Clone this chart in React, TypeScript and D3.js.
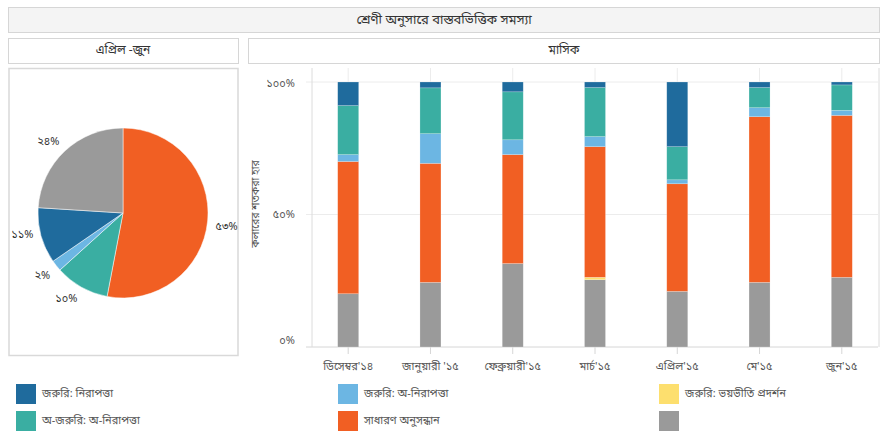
import React from "react";
import * as d3 from "d3";

const months = ["ডিসেম্বর'১৪", "জানুয়ারী '১৫", "ফেব্রুয়ারী'১৫", "মার্চ'১৫", "এপ্রিল'১৫", "মে'১৫", "জুন'১৫"];

const seriesNames = [
  "জরুরি: নিরাপত্তা",
  "জরুরি: অ-নিরাপত্তা",
  "জরুরি: ভয়ভীতি প্রদর্শন",
  "অ-জরুরি: অ-নিরাপত্তা",
  "সাধারণ অনুসন্ধান",
  "",
];
const seriesColors = ["#1f6b9d", "#6cb6e3", "#fddf6e", "#3aaea2", "#f15f23", "#9a9a9a"];

// values per month (percent)
const urgentSafety = [8.9, 2.2, 3.7, 2.1, 24.4, 2.1, 1.1];
const urgentNonSafety = [2.6, 11.2, 5.6, 3.8, 1.5, 3.4, 1.9];
const urgentThreat = [0, 0, 0, 0.9, 0, 0, 0];
const nonUrgentNonSafety = [18.5, 17.3, 18.1, 18.5, 12.5, 7.6, 9.6];
const generalInquiry = [49.9, 44.9, 41.1, 49.3, 40.6, 62.5, 61.1];
const other = [20.1, 24.4, 31.5, 25.4, 21.0, 24.4, 26.3];

// pie (April - June), clockwise from top
const pieOrder = [4, 3, 1, 0, 5];
const pieValues = [53, 10.3, 2.1, 10.6, 24];

const yTicks = [0, 50, 100];

const title = "শ্রেণী অনুসারে বাস্তবভিত্তিক সমস্যা";
const pieTitle = "এপ্রিল -জুন";
const barTitle = "মাসিক";
const yAxisTitle = "কলারের শতকরা হার";

const FONT = "'Noto Sans Bengali', 'Lohit Bengali', 'Vrinda', 'Noto Sans', sans-serif";

const bnDigits = "০১২৩৪৫৬৭৮৯";
const toBn = (n: number) => String(n).replace(/[0-9]/g, (d) => bnDigits[+d]);

export default function App() {
  const W = 888, H = 434;
  const stackKeysBottomUp = [5, 2, 4, 1, 3, 0];
  const seriesData = [urgentSafety, urgentNonSafety, urgentThreat, nonUrgentNonSafety, generalInquiry, other];

  const x = d3.scalePoint<string>().domain(months).range([312, 878]).padding(0.44);
  const y = d3.scaleLinear().domain([0, 100]).range([347, 82]);
  const barW = 21;

  const rows = months.map((m, i) => {
    const r: any = { month: m };
    seriesData.forEach((s, k) => (r["s" + k] = s[i]));
    return r;
  });
  const stack = d3.stack<any>().keys(stackKeysBottomUp.map((k) => "s" + k));
  const stacked = stack(rows);

  const cx = 123, cy = 213, R = 85;
  const pie = d3.pie<number>().sort(null).value((d) => d)(pieValues);
  const arc = d3.arc<any>().innerRadius(0).outerRadius(R);

  const legendCols = [16, 338, 659];
  const legendRows = [384, 411];
  const legendOrder = [0, 1, 2, 3, 4, 5];

  const yLabelShift = (t: number) => (t === 0 ? -6 : t === 100 ? 2 : 0);

  return (
    <svg width={W} height={H} style={{ position: "absolute", left: 0, top: 0, fontFamily: FONT }}>
      <rect x={0} y={0} width={W} height={H} fill="#fff" />
      {/* title */}
      <rect x={8.5} y={7.5} width={871} height={25} fill="#f4f4f4" stroke="#d6d6d6" />
      <text x={444} y={20} textAnchor="middle" dominantBaseline="central" fontSize={13} fill="#333">{title}</text>
      <rect x={8.5} y={38.5} width={230} height={25} fill="#fff" stroke="#d6d6d6" />
      <text x={123} y={51} textAnchor="middle" dominantBaseline="central" fontSize={12} fill="#333">{pieTitle}</text>
      <rect x={248.5} y={38.5} width={631} height={25} fill="#fff" stroke="#d6d6d6" />
      <text x={564} y={51} textAnchor="middle" dominantBaseline="central" fontSize={12} fill="#333">{barTitle}</text>

      {/* pie panel */}
      <rect x={9} y={68.5} width={229} height={287} fill="#fff" stroke="#d9d9d9" strokeWidth={1.5} />
      <g transform={`translate(${cx},${cy})`}>
        {pie.map((p, i) => (
          <path key={i} d={arc(p) as string} fill={seriesColors[pieOrder[i]]} stroke="#fff" strokeWidth={0.5} />
        ))}
        {pie.map((p, i) => {
          const a = (p.startAngle + p.endAngle) / 2;
          const rr = R + 8;
          const deg = (a * 180) / Math.PI;
          const lx = Math.sin(a) * rr;
          const ly = -Math.cos(a) * rr + (deg > 90 && deg < 240 ? 5 : deg > 240 && deg < 340 ? -3 : 0);
          const anchor = Math.sin(a) >= 0 ? "start" : "end";
          return (
            <text key={"l" + i} x={lx} y={ly} textAnchor={anchor} dominantBaseline="central" fontSize={11} fill="#333">
              {toBn(Math.round(pieValues[i])) + "%"}
            </text>
          );
        })}
      </g>

      {/* bar chart grid */}
      <g>
        {months.map((m) => (
          <line key={m} x1={x(m)} x2={x(m)} y1={68} y2={347} stroke="#ececec" />
        ))}
        {yTicks.map((t) => (
          <line key={t} x1={306} x2={878} y1={y(t)} y2={y(t)} stroke={t === 0 ? "#d6d6d6" : "#ececec"} />
        ))}
        <line x1={312} x2={312} y1={68} y2={347} stroke="#dcdcdc" />
        <line x1={879} x2={879} y1={68} y2={347} stroke="#dcdcdc" />
        {months.map((m) => (
          <line key={"t" + m} x1={x(m)} x2={x(m)} y1={347} y2={354} stroke="#d6d6d6" />
        ))}
        {yTicks.map((t) => (
          <text key={"yl" + t} x={295} y={y(t) + yLabelShift(t)} textAnchor="end" dominantBaseline="central" fontSize={11} fill="#555">
            {toBn(t) + "%"}
          </text>
        ))}
        {months.map((m) => (
          <text key={"xl" + m} x={x(m)} y={367} textAnchor="middle" dominantBaseline="central" fontSize={11} fill="#555">
            {m}
          </text>
        ))}
        <text transform={`translate(256,204) rotate(-90)`} textAnchor="middle" dominantBaseline="central" fontSize={10.5} fill="#555">
          {yAxisTitle}
        </text>
      </g>

      {/* bars */}
      {stacked.map((layer, li) => {
        const k = stackKeysBottomUp[li];
        return (
          <g key={layer.key}>
            {layer.map((d, i) => {
              const h = y(d[0]) - y(d[1]);
              if (h <= 0) return null;
              return (
                <rect
                  key={i}
                  x={(x(months[i]) as number) - barW / 2}
                  y={y(d[1])}
                  width={barW}
                  height={h}
                  fill={seriesColors[k]}
                  stroke="rgba(255,255,255,0.35)"
                  strokeWidth={0.6}
                />
              );
            })}
          </g>
        );
      })}

      {/* legend */}
      {legendOrder.map((k, idx) => {
        const col = idx % 3;
        const row = Math.floor(idx / 3);
        return (
          <g key={"lg" + k} transform={`translate(${legendCols[col]},${legendRows[row]})`}>
            <rect x={0} y={0} width={20} height={20} fill={seriesColors[k]} />
            <text x={26} y={10} dominantBaseline="central" fontSize={11} fill="#555">{seriesNames[k]}</text>
          </g>
        );
      })}
    </svg>
  );
}
